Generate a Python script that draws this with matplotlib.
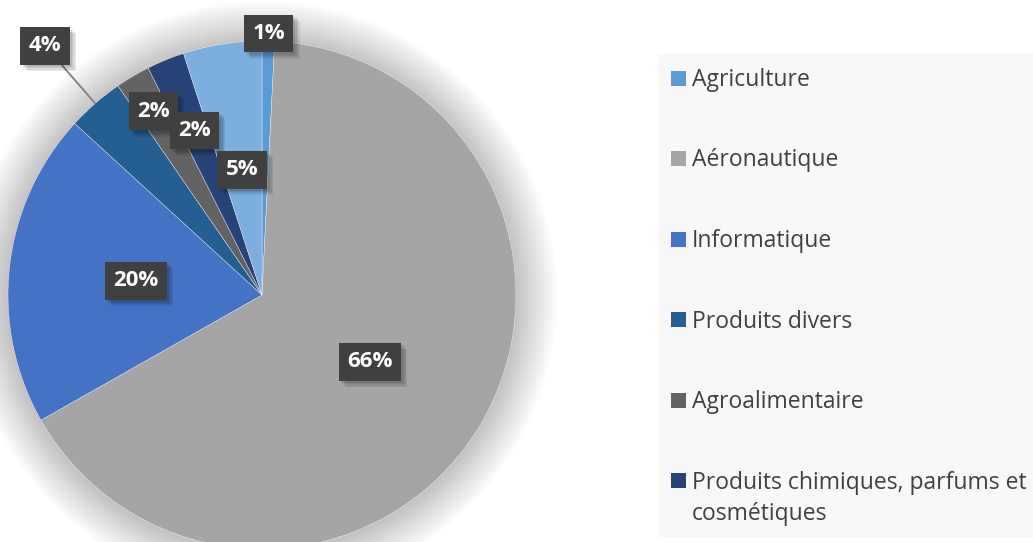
import matplotlib
matplotlib.use("Agg")
import matplotlib.pyplot as plt
import matplotlib.patheffects as pe
from matplotlib.patches import Rectangle, Circle
import numpy as np

# ---- data ----
categories = ["Agriculture", "Aéronautique", "Informatique", "Produits divers",
              "Agroalimentaire", "Produits chimiques, parfums et\ncosmétiques", "Autres"]
values = [0.8, 66.0, 20.0, 3.6, 2.2, 2.4, 5.0]
labels = ["1%", "66%", "20%", "4%", "2%", "2%", "5%"]
colors = ["#5B9BD5", "#A5A5A5", "#4472C4", "#255E91", "#636363", "#264478", "#7CAFDD"]
legend_count = 6  # only six entries visible in the legend

# label radial positions (fraction of radius)
label_r = [1.03, 0.50, 0.50, 1.30, 0.84, 0.70, 0.50]

W, H = 1033, 542
fig = plt.figure(figsize=(W / 100, H / 100), dpi=100)
fig.patch.set_facecolor("white")

cx, cy, R = 262, 295, 254
ax = fig.add_axes([(cx - R) / W, (H - cy - R) / H, 2 * R / W, 2 * R / H])

# soft shadow / glow around pie
n = 30
for i in range(n):
    r = 1.0 + 0.0055 * (i + 1)
    ax.add_patch(Circle((0.0, -0.005), r, facecolor="#000000", alpha=0.008,
                        edgecolor="none", zorder=0, clip_on=False))

wedges, _ = ax.pie(values, colors=colors, startangle=90, counterclock=False,
                   radius=1.0, wedgeprops=dict(edgecolor="white", linewidth=0.25))
for w in wedges:
    w.set_zorder(2)
    w.set_clip_on(False)

ax.set_xlim(-1, 1)
ax.set_ylim(-1, 1)
ax.set_aspect("auto")
ax.axis("off")

bbox_style = dict(boxstyle="square,pad=0.38", facecolor="#404040",
                  edgecolor="none", linewidth=0)

shadow = [pe.SimplePatchShadow(offset=(o, -o), shadow_rgbFace="#000000", alpha=0.08)
          for o in (1.5, 2.5, 3.5, 4.5)] + [pe.Normal()]

for w, lab, rf in zip(wedges, labels, label_r):
    mid = np.deg2rad((w.theta1 + w.theta2) / 2)
    x, y = rf * np.cos(mid), rf * np.sin(mid)
    if rf > 1.1:
        ex, ey = np.cos(mid), np.sin(mid)
        t = ax.annotate(lab, xy=(ex, ey), xytext=(x, y), ha="center", va="center",
                        fontsize=16, fontweight="bold", family="Open Sans",
                        color="white", bbox=bbox_style, zorder=5,
                        arrowprops=dict(arrowstyle="-", color="#7f7f7f", lw=1.3,
                                        shrinkA=0, shrinkB=0), annotation_clip=False)
    else:
        t = ax.text(x, y, lab, ha="center", va="center", fontsize=16,
                    fontweight="bold", family="Open Sans", color="white",
                    bbox=bbox_style, zorder=5, clip_on=False)
    t.get_bbox_patch().set_path_effects(shadow)

# ---- legend ----
fig.patches.append(Rectangle((658 / W, (H - 537) / H), 375 / W, 483 / H,
                             transform=fig.transFigure, facecolor="#F8F8F8",
                             edgecolor="none", zorder=0))
ycenters = [78.5, 158.5, 239.3, 319.5, 400.0, 480.7]
line_step = 31
for i in range(legend_count):
    yc = ycenters[i]
    fig.patches.append(Rectangle((671 / W, (H - yc - 7.5) / H), 15 / W, 15 / H,
                                 transform=fig.transFigure, facecolor=colors[i],
                                 edgecolor="none", zorder=3))
    for j, line in enumerate(categories[i].split("\n")):
        fig.text(692 / W, (H - yc - 8 - j * line_step) / H, line, ha="left",
                 va="baseline", fontsize=16.5, family="Open Sans", color="#404040")

fig.savefig("out.png", dpi=100, facecolor="white")
